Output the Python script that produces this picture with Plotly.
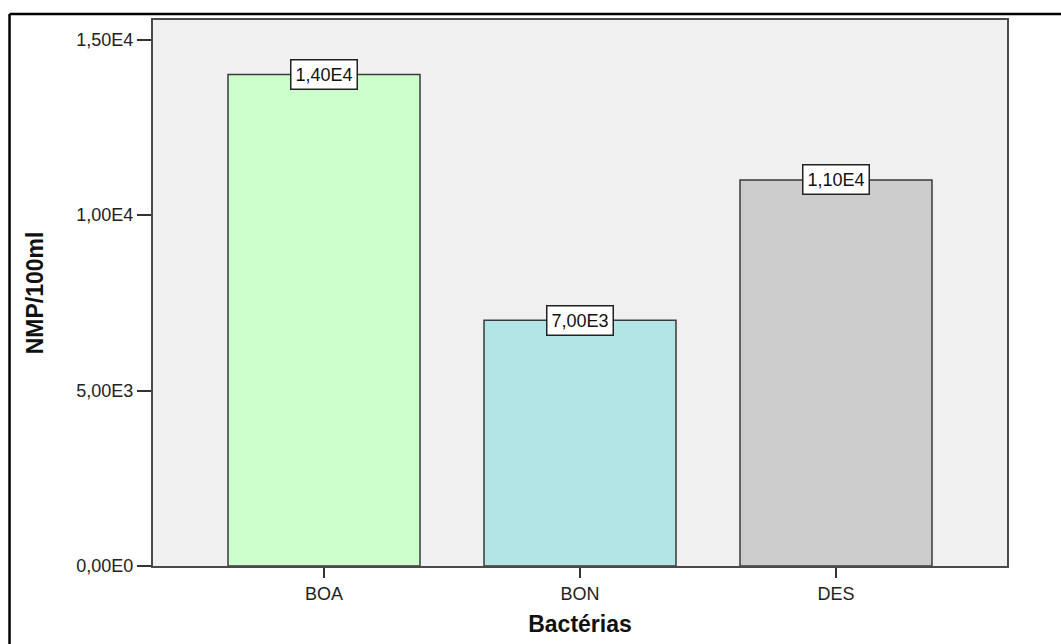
import plotly.graph_objects as go

categories = ["BOA", "BON", "DES"]
values = [14000, 7000, 11000]
value_labels = ["1,40E4", "7,00E3", "1,10E4"]
bar_colors = ["#ccffcc", "#b3e5e6", "#cccccc"]
y_tickvals = [0, 5000, 10000, 15000]
y_ticktext = ["0,00E0", "5,00E3", "1,00E4", "1,50E4"]

FONT = "Liberation Sans, Arial, sans-serif"

fig = go.Figure()
fig.add_trace(go.Bar(
    x=categories, y=values,
    marker=dict(color=bar_colors, line=dict(color="#3a3a3a", width=1.5)),
    width=0.75, showlegend=False, hoverinfo="skip",
))

for c, v, t in zip(categories, values, value_labels):
    fig.add_annotation(
        x=c, y=v, text=t, showarrow=False, xref="x", yref="y",
        font=dict(family=FONT, size=18, color="#111111"),
        bgcolor="white", bordercolor="#222222", borderwidth=1.5, borderpad=4,
        xanchor="center", yanchor="middle",
    )

# outer frame (left and top edges)
fig.add_shape(type="line", xref="paper", yref="paper",
              x0=-0.168, x1=1.2, y0=1.011, y1=1.011,
              line=dict(color="black", width=2.5))
fig.add_shape(type="line", xref="paper", yref="paper",
              x0=-0.168, x1=-0.168, y0=1.011, y1=-0.3,
              line=dict(color="black", width=2.5))

fig.update_layout(
    width=1061, height=644,
    margin=dict(l=153, r=54, t=20, b=78),
    paper_bgcolor="white", plot_bgcolor="#f0f0f0",
    font=dict(family=FONT, size=18, color="#222222"),
    xaxis=dict(
        range=[-0.668, 2.668], showgrid=False, zeroline=False,
        showline=True, mirror=True, linecolor="#4a4a4a", linewidth=2,
        ticks="outside", ticklen=10, tickwidth=1.5, tickcolor="#333333",
        tickfont=dict(family=FONT, size=18, color="#222222"),
        title=dict(text="<b>Bactérias</b>", font=dict(family=FONT, size=23, color="#111111"), standoff=13),
    ),
    yaxis=dict(
        range=[0, 15556], showgrid=False, zeroline=False,
        showline=True, mirror=True, linecolor="#4a4a4a", linewidth=2,
        ticks="outside", ticklen=14, tickwidth=1.5, tickcolor="#333333",
        tickvals=y_tickvals, ticktext=y_ticktext,
        tickfont=dict(family=FONT, size=18, color="#222222"),
        title=dict(text="<b>NMP/100ml</b>", font=dict(family=FONT, size=23, color="#111111"), standoff=26),
    ),
)

fig.write_html("out.html")
